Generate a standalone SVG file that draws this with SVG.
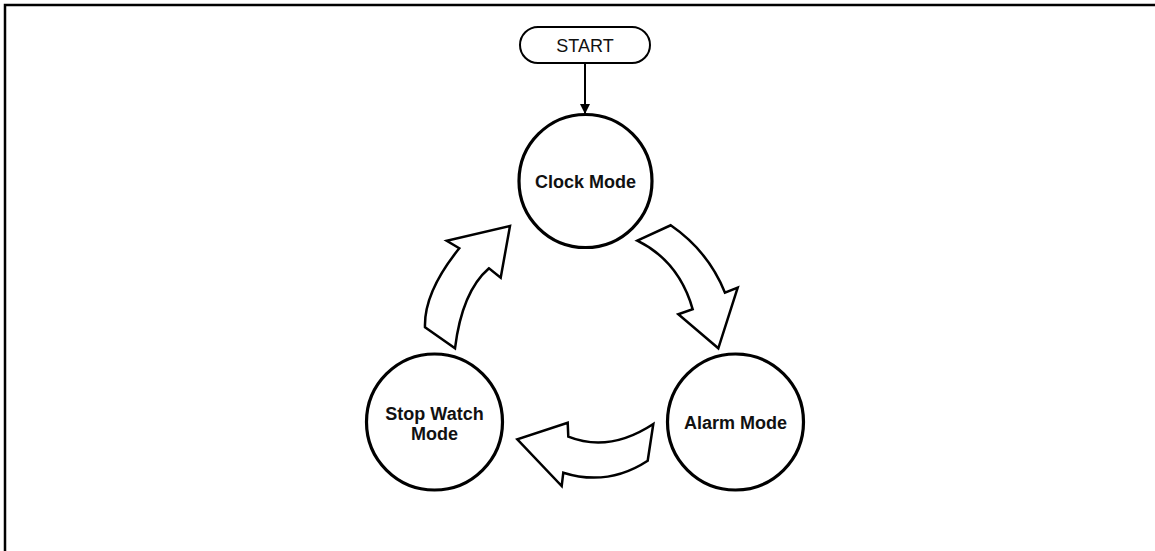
<svg xmlns="http://www.w3.org/2000/svg" width="1155" height="551" viewBox="0 0 1155 551">
  <defs>
    <style>
      .frame { fill: none; stroke: #000; stroke-width: 2.5; }
      .state { fill: #fff; stroke: #000; stroke-width: 3.2; }
      .term { fill: #fff; stroke: #000; stroke-width: 2; }
      .flow { fill: #fff; stroke: #000; stroke-width: 2.5; stroke-linejoin: miter; }
      .edge { fill: none; stroke: #000; stroke-width: 2; }
      .label { font-family: "Liberation Sans", Arial, sans-serif; font-size: 18px; fill: #111; text-anchor: middle; }
      .bold { font-weight: bold; }
    </style>
    <marker id="head" viewBox="0 0 10 10" refX="10" refY="5" markerWidth="5" markerHeight="5.5" orient="auto" markerUnits="strokeWidth">
      <path d="M0,0 L10,5 L0,10 Z" fill="#000"/>
    </marker>
  </defs>

  <rect width="1155" height="551" fill="#fff"/>
  <!-- outer frame: top and left edges only -->
  <path class="frame" d="M5,551 L5,5 L1155,5"/>

  <g id="start">
    <rect class="term" x="520" y="27" width="130" height="36" rx="18" ry="18"/>
    <text class="label" x="585" y="52">START</text>
  </g>

  <g id="clock-mode">
    <circle class="state" cx="585.5" cy="181" r="66.5"/>
    <text class="label bold" x="585.5" y="187.5">Clock Mode</text>
  </g>

  <g id="alarm-mode">
    <circle class="state" cx="735.5" cy="422" r="68"/>
    <text class="label bold" x="735.5" y="428.5">Alarm Mode</text>
  </g>

  <g id="stop-watch-mode">
    <circle class="state" cx="434.5" cy="422" r="68"/>
    <text class="label bold" x="434.5" y="419.5">Stop Watch</text>
    <text class="label bold" x="434.5" y="439.5">Mode</text>
  </g>

  <g id="connectors">
    <line class="edge" x1="585" y1="63" x2="585" y2="114" marker-end="url(#head)"/>
    <!-- clock -> alarm -->
    <path class="flow" d="M637.3,240.7 L670.7,225.3 Q708.2,251 725,292.7 L737.7,287.7 L718.3,348.3 L678.3,314.3 L692.7,309.3 Q679,261 637.3,240.7 Z"/>
    <!-- alarm -> stop watch -->
    <path class="flow" d="M653.3,424 L647.7,460.7 Q607.9,486.7 563.3,472.7 L561.7,486 L517.3,439.3 L567.7,422.7 L568.3,436.7 Q609.2,453 653.3,424 Z"/>
    <!-- stop watch -> clock -->
    <path class="flow" d="M425,327.3 L455,348.3 Q462,291.6 489,268.3 L500.7,277.7 L510,226 L446.7,240.7 L459.3,248.3 Q423.8,292.2 425,327.3 Z"/>
  </g>
</svg>
